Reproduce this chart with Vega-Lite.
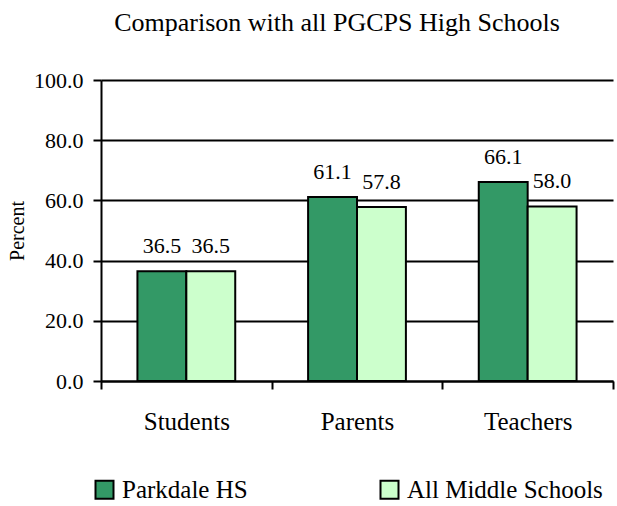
{
  "$schema": "https://vega.github.io/schema/vega-lite/v6.json",
  "width": 512,
  "height": 301,
  "autosize": {"type": "none"},
  "padding": {"left": 101, "top": 80, "right": 4, "bottom": 125},
  "background": "white",
  "title": {
    "text": "Comparison with all PGCPS High Schools",
    "font": "Times New Roman",
    "fontSize": 26,
    "fontWeight": "normal",
    "color": "black",
    "anchor": "middle",
    "dx": -20,
    "offset": 33
  },
  "data": {
    "values": [
      {"category": "Students", "group": "Parkdale HS", "value": 36.5},
      {"category": "Students", "group": "All Middle Schools", "value": 36.5},
      {"category": "Parents", "group": "Parkdale HS", "value": 61.1},
      {"category": "Parents", "group": "All Middle Schools", "value": 57.8},
      {"category": "Teachers", "group": "Parkdale HS", "value": 66.1},
      {"category": "Teachers", "group": "All Middle Schools", "value": 58.0}
    ]
  },
  "encoding": {
    "x": {
      "field": "category",
      "type": "nominal",
      "sort": ["Students", "Parents", "Teachers"],
      "scale": {"paddingInner": 0, "paddingOuter": 0},
      "axis": {
        "title": null,
        "labelAngle": 0,
        "labelFont": "Times New Roman",
        "labelFontSize": 25,
        "labelColor": "black",
        "labelPadding": 20,
        "tickBand": "extent",
        "tickSize": 8,
        "tickColor": "black",
        "tickWidth": 2,
        "domainColor": "black",
        "domainWidth": 2,
        "grid": false
      }
    },
    "xOffset": {
      "field": "group",
      "type": "nominal",
      "sort": ["Parkdale HS", "All Middle Schools"],
      "scale": {"paddingInner": 0, "paddingOuter": 0.745}
    },
    "y": {
      "field": "value",
      "type": "quantitative",
      "scale": {"domain": [0, 100], "nice": false},
      "axis": {
        "values": [0, 20, 40, 60, 80, 100],
        "format": ".1f",
        "title": "Percent",
        "titleFont": "Times New Roman",
        "titleFontSize": 20,
        "titleFontWeight": "normal",
        "titleColor": "black",
        "titlePadding": 6,
        "labelFont": "Times New Roman",
        "labelFontSize": 22,
        "labelColor": "black",
        "labelPadding": 10,
        "tickSize": 8,
        "tickColor": "black",
        "tickWidth": 2,
        "domainColor": "black",
        "domainWidth": 2,
        "grid": true,
        "gridColor": "black",
        "gridWidth": 2,
        "gridOpacity": 1
      }
    }
  },
  "layer": [
    {
      "mark": {"type": "bar", "stroke": "black", "strokeWidth": 2},
      "encoding": {
        "color": {
          "field": "group",
          "type": "nominal",
          "sort": ["Parkdale HS", "All Middle Schools"],
          "scale": {"domain": ["Parkdale HS", "All Middle Schools"], "range": ["#339966", "#CCFFCC"]},
          "legend": {
            "title": null,
            "orient": "none",
            "direction": "horizontal",
            "columns": 2,
            "legendX": -9,
            "legendY": 397,
            "symbolType": "square",
            "symbolSize": 324,
            "symbolStrokeColor": "black",
            "symbolStrokeWidth": 2,
            "symbolOpacity": 1,
            "labelFont": "Times New Roman",
            "labelFontSize": 25,
            "labelColor": "black",
            "labelOffset": 5,
            "columnPadding": 128,
            "labelLimit": 400
          }
        }
      }
    },
    {
      "mark": {
        "type": "text",
        "baseline": "alphabetic",
        "align": "center",
        "dy": -18,
        "font": "Times New Roman",
        "fontSize": 22,
        "color": "black"
      },
      "encoding": {
        "text": {"field": "value", "type": "quantitative", "format": ".1f"}
      }
    }
  ],
  "config": {
    "font": "Times New Roman",
    "view": {"stroke": null}
  }
}
